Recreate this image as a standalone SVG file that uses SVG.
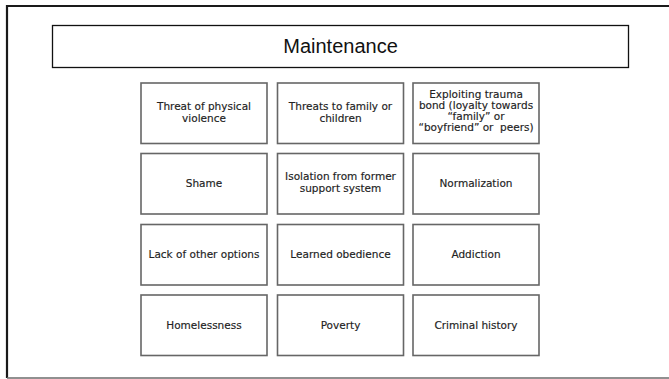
<svg xmlns="http://www.w3.org/2000/svg" width="669" height="379" viewBox="0 0 669 379">
<style>
.frame{stroke:#1a1a1a;stroke-width:2.2;fill:none}
.framebot{stroke:#6b6b6b;stroke-width:1.6;fill:none}
.title{fill:#fff;stroke:#111;stroke-width:1.3}
.ttl{font-family:"Liberation Sans",Arial,sans-serif;font-size:20px;fill:#111;text-anchor:middle}
.box{fill:#fff;stroke:#666;stroke-width:1.6}
.lbl{font-family:"DejaVu Sans",sans-serif;font-size:10.5px;fill:#222;stroke:#222;stroke-width:0.15;text-anchor:middle}
</style>
<rect width="669" height="379" fill="#fff"/>
<g id="frame">
<path class="frame" d="M7 378 V6 H669"/>
<path class="framebot" d="M7 378 H669"/>
</g>
<g id="title">
<rect class="title" x="52.5" y="25.5" width="576" height="42"/>
<text class="ttl" x="340.5" y="53">Maintenance</text>
</g>
<g id="n1"><rect class="box" x="141" y="83" width="126" height="60.5"/><text class="lbl" x="204" y="110">Threat of physical</text><text class="lbl" x="204" y="122">violence</text></g>
<g id="n2"><rect class="box" x="277.5" y="83" width="126" height="60.5"/><text class="lbl" x="340.5" y="110">Threats to family or</text><text class="lbl" x="340.5" y="122">children</text></g>
<g id="n3"><rect class="box" x="413" y="83" width="126" height="60.5"/><text class="lbl" x="476" y="98">Exploiting trauma</text><text class="lbl" x="476" y="109">bond (loyalty towards</text><text class="lbl" x="476" y="120">“family” or</text><text class="lbl" x="476" y="131" xml:space="preserve">“boyfriend” or  peers)</text></g>
<g id="n4"><rect class="box" x="141" y="153.5" width="126" height="60.5"/><text class="lbl" x="204" y="187">Shame</text></g>
<g id="n5"><rect class="box" x="277.5" y="153.5" width="126" height="60.5"/><text class="lbl" x="340.5" y="180">Isolation from former</text><text class="lbl" x="340.5" y="192">support system</text></g>
<g id="n6"><rect class="box" x="413" y="153.5" width="126" height="60.5"/><text class="lbl" x="476" y="187">Normalization</text></g>
<g id="n7"><rect class="box" x="141" y="224.5" width="126" height="60.5"/><text class="lbl" x="204" y="258">Lack of other options</text></g>
<g id="n8"><rect class="box" x="277.5" y="224.5" width="126" height="60.5"/><text class="lbl" x="340.5" y="258">Learned obedience</text></g>
<g id="n9"><rect class="box" x="413" y="224.5" width="126" height="60.5"/><text class="lbl" x="476" y="258">Addiction</text></g>
<g id="n10"><rect class="box" x="141" y="295" width="126" height="60.5"/><text class="lbl" x="204" y="329">Homelessness</text></g>
<g id="n11"><rect class="box" x="277.5" y="295" width="126" height="60.5"/><text class="lbl" x="340.5" y="329">Poverty</text></g>
<g id="n12"><rect class="box" x="413" y="295" width="126" height="60.5"/><text class="lbl" x="476" y="329">Criminal history</text></g>
<g id="connectors"></g>
</svg>
